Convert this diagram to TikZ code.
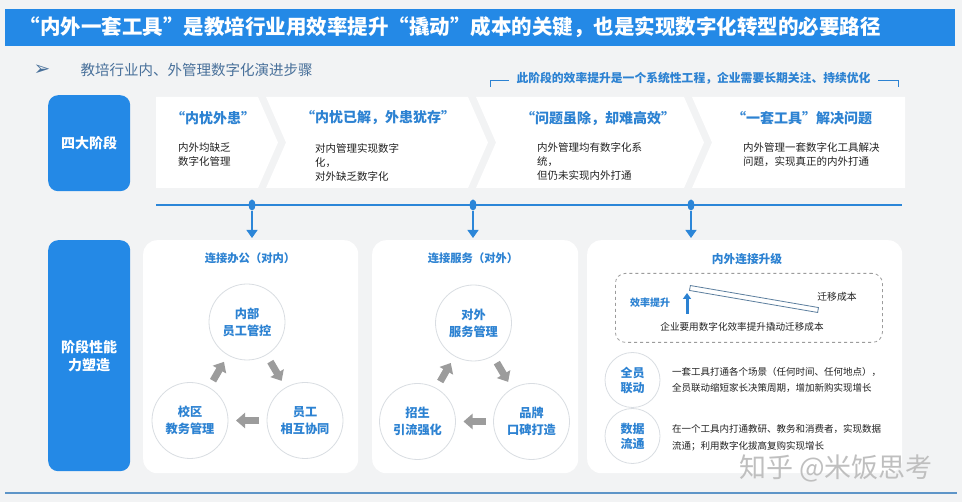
\documentclass[tikz,border=0pt]{standalone}
\usepackage{fontspec}
\setmainfont{Noto Sans CJK SC}
\newfontfamily\symfont{DejaVu Sans}
\usepackage{tikz}
\usetikzlibrary{arrows.meta,positioning,calc,shapes.geometric}
\usepackage{xcolor}
\definecolor{edBack}{HTML}{F2F3F4}
\definecolor{edBlue}{HTML}{2489E6}
\definecolor{edHead}{HTML}{2C82D2}
\definecolor{edText}{HTML}{222222}
\definecolor{edSub}{HTML}{48709A}
\definecolor{edLine}{HTML}{2C86D8}
\definecolor{edGrey}{HTML}{9C9C9C}
\definecolor{edRing}{HTML}{D9DDE2}
\definecolor{edFoot}{HTML}{5E95C8}
\definecolor{edBar}{HTML}{5C7E9E}
\tikzset{
  chev/.style={fill=white, draw=none},
  sidebox/.style={rounded corners=10pt, fill=edBlue, anchor=north west, font=\fontsize{14}{18}\selectfont\bfseries, text=white, align=center},
  stagehead/.style={font=\fontsize{14}{17}\selectfont\bfseries, text=edHead},
  stagetext/.style={anchor=west, inner sep=0pt, align=left, font=\fontsize{10.5}{14}\selectfont, text=edText},
  panel/.style={rounded corners=14pt, fill=white, anchor=north west},
  panelhead/.style={font=\fontsize{11.3}{14}\selectfont\bfseries, text=edHead},
  ring/.style={circle, draw=edRing, line width=0.8pt, fill=white, minimum size=76pt, inner sep=0pt, outer sep=0pt, align=center, font=\fontsize{12.2}{17}\selectfont\bfseries, text=edHead},
  smallring/.style={ring, minimum size=55pt, font=\fontsize{12}{15}\selectfont\bfseries},
  blockarr/.style={-{Triangle[length=9pt,width=15pt]}, line width=7pt, draw=edGrey, shorten <=8pt, shorten >=8pt},
  tline/.style={line width=1.5pt, draw=edLine},
  tdot/.style={ellipse, fill=edLine, minimum width=7pt, minimum height=11pt, inner sep=0pt},
  tarr/.style={-{Triangle[length=8pt,width=11pt]}, line width=1.2pt, draw=edLine, shorten >=2pt},
  brk/.style={line width=0.9pt, draw=edHead}
}
\begin{document}
\begin{tikzpicture}[x=1pt,y=-1pt]
  \useasboundingbox (0,0) rectangle (962,502);
  \fill[edBack] (0,0) rectangle (962,502);
  % title
  \node[fill=edBlue, anchor=north west, minimum width=950pt, minimum height=37pt, inner sep=0pt] (bar) at (5,9) {};
  \node[anchor=west, text=white, font=\fontsize{20.5}{24}\selectfont\bfseries] (title) at (16,27.5) {“内外一套工具”是教培行业用效率提升“撬动”成本的关键，也是实现数字化转型的必要路径};
  \node[text=edSub, font=\symfont\fontsize{20}{22}\selectfont] (mark) at (42,70) {➢};
  \node[anchor=west, text=edSub, font=\fontsize{14.5}{17}\selectfont] (sub) at (77,70) {教培行业内、外管理数字化演进步骤};
  \node[text=edHead, font=\fontsize{11.8}{14}\selectfont\bfseries] (note) at (693.5,78) {此阶段的效率提升是一个系统性工程，企业需要长期关注、持续优化};
  \draw[brk] (490,87) -- (490,80) -- ([xshift=-4pt]note.west |- 0,80);
  \draw[brk] ([xshift=4pt]note.east |- 0,80) -- (898,80) -- (898,87);
  % four stages
  \node[sidebox, minimum width=82pt, minimum height=96pt] (lbl1) at (48,95) {四大阶段};
  \fill[chev] (156,97) -- (258,97) -- (278,142.5) -- (258,188) -- (156,188) -- cycle;
  \foreach \l/\r in {266/468, 476/684}
    \fill[chev] (\l,97) -- (\r,97) -- (\r+20,142.5) -- (\r,188) -- (\l,188) -- (\l+20,142.5) -- cycle;
  \fill[chev] (692,97) -- (905,97) -- (905,188) -- (692,188) -- (712,142.5) -- cycle;
  \node[stagehead] (h1) at (213,118) {“内忧外患”};
  \node[stagehead] (h2) at (378,118) {“内忧已解，外患犹存”};
  \node[stagehead] (h3) at (598,118) {“问题虽除，却难高效”};
  \node[stagehead] (h4) at (802,118) {“一套工具”解决问题};
  \node[stagetext] (s1) at (178,155) {内外均缺乏\\数字化管理};
  \node[stagetext] (s2) at (315,162) {对内管理实现数字\\化，\\对外缺乏数字化};
  \node[stagetext] (s3) at (537,161.5) {内外管理均有数字化系\\统，\\但仍未实现内外打通};
  \node[stagetext] (s4) at (743,155) {内外管理一套数字化工具解决\\问题，实现真正的内外打通};
  % timeline
  \coordinate (tlL) at (156,205);
  \coordinate (tlR) at (902,205);
  \draw[tline] (tlL) -- (tlR);
  \node[tdot] (d1) at (252,205) {};
  \node[tdot] (d2) at (473,205) {};
  \node[tdot] (d3) at (691,205) {};
  % capability panels
  \node[sidebox, minimum width=82pt, minimum height=231pt] (lbl2) at (48,240) {阶段性能\\力塑造};
  \node[panel, minimum width=215pt, minimum height=233pt] (p1) at (143,240) {};
  \node[panel, minimum width=206pt, minimum height=233pt] (p2) at (372,240) {};
  \node[panel, minimum width=315pt, minimum height=233pt] (p3) at (587,240) {};
  \draw[tarr] (d1) -- (d1 |- p1.north);
  \draw[tarr] (d2) -- (d2 |- p2.north);
  \draw[tarr] (d3) -- (d3 |- p3.north);
  % internal office
  \node[panelhead] (ph1) at (250,258) {连接办公（对内）};
  \node[ring] (in1) at (247,322) {内部\\员工管控};
  \node[ring] (in2) at (305,420.5) {员工\\相互协同};
  \node[ring] (in3) at (190,420.5) {校区\\教务管理};
  \draw[blockarr] (in1) -- (in2);
  \draw[blockarr] (in2) -- (in3);
  \draw[blockarr] (in3) -- (in1);
  % external service
  \node[panelhead] (ph2) at (473,258) {连接服务（对外）};
  \node[ring] (ex1) at (473.5,323) {对外\\服务管理};
  \node[ring] (ex2) at (531.5,421.5) {品牌\\口碑打造};
  \node[ring] (ex3) at (417.5,421.5) {招生\\引流强化};
  \draw[blockarr] (ex1) -- (ex2);
  \draw[blockarr] (ex2) -- (ex3);
  \draw[blockarr] (ex3) -- (ex1);
  % upgrade
  \node[panelhead, font=\fontsize{11.7}{14}\selectfont\bfseries] (ph3) at (747,259) {内外连接升级};
  \node[draw=edGrey, dashed, line width=0.8pt, rounded corners=10pt, anchor=north west, minimum width=267pt, minimum height=69pt] (dbox) at (615,273) {};
  \node[draw=edBar, fill=white, line width=0.8pt, minimum width=130pt, minimum height=5pt, inner sep=0pt, rotate=-9.75] (lever) at (754,299) {};
  \node[text=edHead, font=\fontsize{10}{12}\selectfont\bfseries] (gain) at (650,303) {效率提升};
  \coordinate (upS) at (687,314);
  \draw[-{Triangle[length=6pt,width=8pt]}, line width=3pt, draw=edHead] (upS) -- ++(0,-21);
  \node[text=edText, font=\fontsize{9.8}{12}\selectfont] (cost) at (837,297) {迁移成本};
  \node[text=edText, font=\fontsize{9.6}{12}\selectfont] (lev) at (742,327) {企业要用数字化效率提升撬动迁移成本};
  \node[smallring] (r1) at (632.5,380) {全员\\联动};
  \node[smallring] (r2) at (632.5,436) {数据\\流通};
  \node[stagetext, font=\fontsize{9.5}{16}\selectfont] (u1) at (672,379.5) {一套工具打通各个场景（任何时间、任何地点），\\全员联动缩短家长决策周期，增加新购实现增长};
  \node[stagetext, font=\fontsize{9.5}{17}\selectfont] (u2) at (672,438) {在一个工具内打通教研、教务和消费者，实现数据\\流通；利用数字化拔高复购实现增长};
  \node[text=black!25, font=\fontsize{27}{30}\selectfont] (wm) at (836,468) {知乎 @米饭思考};
  % footer
  \coordinate (ftL) at (5,493);
  \coordinate (ftR) at (957,493);
  \draw[line width=2.5pt, draw=edFoot] (ftL) -- (ftR);
\end{tikzpicture}
\end{document}
